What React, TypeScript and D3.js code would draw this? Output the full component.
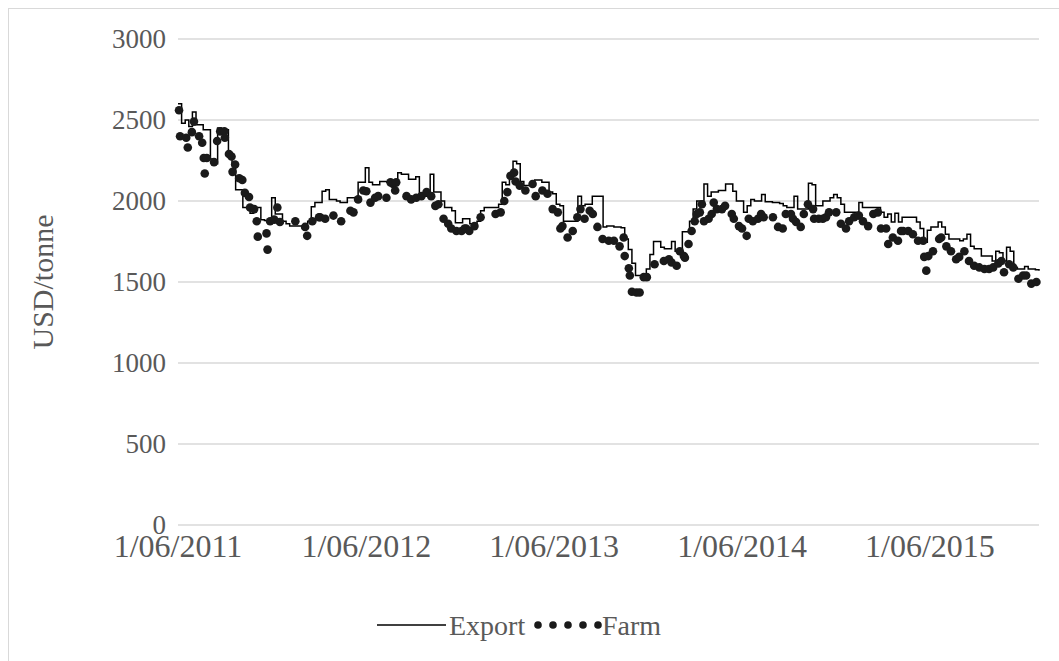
// Export vs farm price chart, weekly export quotes as a step line and farm quotes as dots.
import * as d3 from "d3";

const W = 1059;
const H = 661;
const PLOT = { left: 178, right: 1039, top: 39, bottom: 525 };
const FONT = "'Liberation Serif', 'Times New Roman', serif";

const START = new Date(2011, 5, 1);
const END_DAY = 1673;

// weekly export price, USD/tonne, from 1 June 2011
const exportPrice = [
  2600, 2480, 2500, 2460, 2550, 2470, 2470, 2440, 2440, 2260,
  2230, 2450, 2440, 2440, 2300, 2230, 2070, 2070, 1960, 1960,
  1925, 1960, 1960, 1885, 1880, 1880, 2020, 1920, 1920, 1875,
  1860, 1845, 1845, 1845, 1845, 1860, 1875, 1965, 1990, 1990,
  2060, 2070, 2010, 2010, 2000, 1990, 1990, 2020, 2020, 2020,
  2115, 2115, 2205, 2115, 2100, 2100, 2120, 2120, 2115, 2095,
  2095, 2175, 2165, 2165, 2135, 2135, 2150, 2030, 2030, 2030,
  2165, 2055, 2055, 2000, 1960, 1960, 1940, 1865, 1865, 1890,
  1890, 1860, 1860, 1875, 1940, 1960, 1960, 1960, 1960, 1980,
  2115, 2100, 2165, 2245, 2230, 2120, 2095, 2095, 2095, 2130,
  2130, 2115, 2115, 2055, 2045, 1980, 1970, 1875, 1875, 1875,
  1875, 2030, 1970, 1980, 1980, 2030, 2030, 2030, 1840, 1845,
  1845, 1840, 1840, 1835, 1765, 1700, 1615, 1540, 1540, 1540,
  1580, 1670, 1750, 1750, 1715, 1705, 1705, 1750, 1690, 1700,
  1810, 1810, 1875, 1950, 2000, 2000, 2105, 2030, 2055, 2055,
  2065, 2065, 2105, 2105, 2060, 2000, 2000, 1930, 1970, 2010,
  2000, 2000, 2040, 1995, 1995, 1990, 1990, 1985, 1970, 1960,
  1960, 2030, 1950, 1950, 1950, 2110, 2100, 1970, 1970, 2000,
  2000, 2020, 2040, 2020, 1980, 1930, 1930, 1930, 1930, 1990,
  1960, 1960, 1960, 1960, 1960, 1930, 1900, 1920, 1870, 1925,
  1870, 1900, 1900, 1900, 1900, 1870, 1830, 1745, 1820, 1840,
  1840, 1870, 1840, 1795, 1765, 1765, 1765, 1755, 1765, 1795,
  1720, 1705, 1705, 1660, 1660, 1660, 1630, 1690, 1680, 1630,
  1715, 1690, 1590, 1580, 1580, 1595, 1580, 1580, 1575, 1570,
];

// farm quotes: day offset from 1 June 2011 and price
const farmDay = [
  2, 4, 16, 19, 27, 31, 41, 47, 50, 52, 56, 70, 76, 82, 90, 91, 99, 104, 106, 111,
  119, 125, 130, 138, 140, 148, 153, 155, 172, 174, 179, 187, 193, 198, 228, 247, 251, 261, 274, 276,
  286, 302, 317, 335, 341, 350, 360, 366, 374, 383, 389, 405, 413, 418, 422, 424, 444, 453, 463, 473,
  483, 492, 500, 506, 516, 525, 531, 541, 551, 557, 560, 566, 576, 588, 617, 627, 634, 640, 646, 653,
  656, 664, 675, 689, 695, 708, 718, 728, 738, 743, 747, 757, 767, 776, 782, 790, 800, 806, 815, 825,
  837, 847, 858, 866, 868, 876, 878, 882, 891, 897, 905, 911, 926, 944, 954, 959, 969, 975, 983, 985,
  992, 998, 1004, 1008, 1014, 1018, 1022, 1031, 1037, 1041, 1047, 1057, 1063, 1076, 1080, 1090, 1096, 1105, 1109, 1117,
  1127, 1133, 1138, 1156, 1166, 1175, 1181, 1191, 1195, 1201, 1210, 1216, 1224, 1234, 1236, 1245, 1253, 1259, 1265, 1279,
  1288, 1298, 1304, 1314, 1323, 1331, 1341, 1351, 1360, 1366, 1376, 1380, 1389, 1399, 1405, 1409, 1419, 1428, 1438, 1448,
  1450, 1454, 1458, 1467, 1479, 1483, 1493, 1502, 1512, 1518, 1528, 1537, 1547, 1557, 1567, 1576, 1584, 1594, 1600, 1605,
  1615, 1623, 1633, 1642, 1648, 1658, 1668,
];
const farmPrice = [
  2560, 2400, 2390, 2330, 2425, 2490, 2400, 2360, 2265, 2170, 2265, 2240, 2370, 2430, 2430, 2390, 2290, 2275, 2180, 2225,
  2140, 2130, 2050, 2025, 1960, 1950, 1875, 1780, 1800, 1700, 1875, 1885, 1960, 1870, 1875, 1840, 1785, 1875, 1900, 1900,
  1890, 1910, 1875, 1940, 1930, 2010, 2065, 2060, 1990, 2020, 2030, 2020, 2115, 2105, 2065, 2115, 2030, 2010, 2020, 2030,
  2055, 2030, 1970, 1980, 1890, 1860, 1830, 1815, 1815, 1830, 1830, 1815, 1845, 1900, 1920, 1930, 2000, 2055, 2155, 2175,
  2120, 2095, 2065, 2105, 2030, 2065, 2045, 1950, 1930, 1830, 1845, 1775, 1815, 1900, 1950, 1890, 1940, 1920, 1840, 1765,
  1755, 1755, 1720, 1775, 1660, 1585, 1540, 1440, 1435, 1435, 1530, 1530, 1610, 1630, 1640, 1620, 1600, 1690, 1660, 1650,
  1735, 1815, 1875, 1920, 1930, 1980, 1875, 1890, 1920, 1990, 1950, 1950, 1970, 1920, 1890, 1845, 1830, 1785, 1890, 1875,
  1890, 1920, 1900, 1900, 1840, 1830, 1920, 1920, 1890, 1870, 1840, 1920, 1980, 1950, 1890, 1890, 1890, 1900, 1930, 1930,
  1860, 1830, 1875, 1900, 1910, 1875, 1845, 1920, 1930, 1830, 1830, 1735, 1775, 1755, 1815, 1815, 1815, 1795, 1755, 1755,
  1655, 1570, 1660, 1690, 1765, 1775, 1720, 1690, 1640, 1655, 1690, 1630, 1600, 1590, 1580, 1580, 1590, 1615, 1630, 1560,
  1610, 1590, 1520, 1540, 1540, 1490, 1500,
];

const yTicks = [0, 500, 1000, 1500, 2000, 2500, 3000];
const xTickYears = [2011, 2012, 2013, 2014, 2015];

export default function App() {
  const x = d3
    .scaleTime()
    .domain([START, d3.timeDay.offset(START, END_DAY)])
    .range([PLOT.left, PLOT.right]);
  const y = d3.scaleLinear().domain([0, 3000]).range([PLOT.bottom, PLOT.top]);

  const exportPts = exportPrice.map((v, i) => ({ date: d3.timeDay.offset(START, i * 7), v }));
  const farmPts = farmDay.map((d, i) => ({ date: d3.timeDay.offset(START, d), v: farmPrice[i] }));

  const line = d3
    .line<{ date: Date; v: number }>()
    .x((d) => x(d.date))
    .y((d) => y(d.v))
    .curve(d3.curveStepAfter);

  const fmt = d3.timeFormat("%-d/%m/%Y");
  const xTicks = xTickYears.map((yr) => new Date(yr, 5, 1));

  return (
    <svg width={W} height={H} style={{ display: "block", position: "absolute", left: 0, top: 0 }}>
      <rect x={0} y={0} width={W} height={H} fill="#fff" />
      <rect x={8.5} y={8.5} width={W + 20} height={H + 20} fill="none" stroke="#d9d9d9" strokeWidth={1} />

      {yTicks.map((t) => (
        <g key={t}>
          <line x1={PLOT.left} x2={PLOT.right} y1={y(t)} y2={y(t)} stroke="#d9d9d9" strokeWidth={1.5} />
          <text
            x={166}
            y={y(t)}
            dy="0.35em"
            textAnchor="end"
            fontFamily={FONT}
            fontSize={27}
            fill="#595959"
          >
            {t}
          </text>
        </g>
      ))}

      {xTicks.map((d) => (
        <text
          key={d.getFullYear()}
          x={x(d)}
          y={557}
          textAnchor="middle"
          fontFamily={FONT}
          fontSize={32}
          fill="#595959"
        >
          {fmt(d)}
        </text>
      ))}

      <text
        transform={`translate(42,${(PLOT.top + PLOT.bottom) / 2}) rotate(-90)`}
        textAnchor="middle"
        dy="0.35em"
        fontFamily={FONT}
        fontSize={30}
        fill="#595959"
      >
        USD/tonne
      </text>

      <path d={line(exportPts) ?? ""} fill="none" stroke="#000" strokeWidth={1.5} />

      {farmPts.map((p, i) => (
        <circle key={i} cx={x(p.date)} cy={y(p.v)} r={4.3} fill="#1a1a1a" />
      ))}

      <g fontFamily={FONT} fontSize={28} fill="#595959">
        <line x1={377} x2={446} y1={625} y2={625} stroke="#000" strokeWidth={1.5} />
        <text x={449} y={625} dy="0.35em">Export</text>
        {[538, 553, 568, 583, 598].map((cx) => (
          <circle key={cx} cx={cx} cy={625} r={3.8} fill="#1a1a1a" />
        ))}
        <text x={602} y={625} dy="0.35em">Farm</text>
      </g>
    </svg>
  );
}
